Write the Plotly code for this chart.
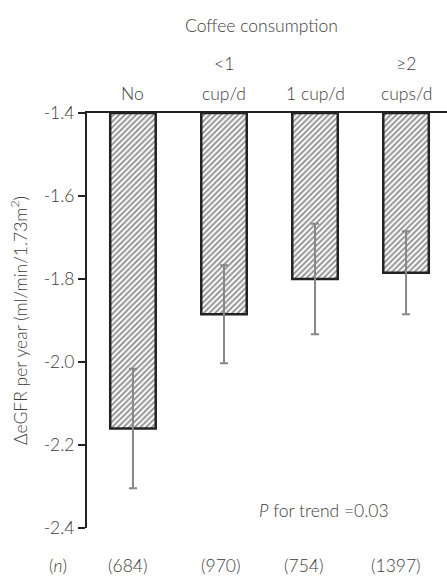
import plotly.graph_objects as go

categories = ["No", "<1 cup/d", "1 cup/d", ">=2 cups/d"]
label_line1 = ["", "<1", "", "≥2"]
label_line2 = ["No", "cup/d", "1 cup/d", "cups/d"]
values = [-2.16, -1.885, -1.80, -1.785]
errors = [0.144, 0.118, 0.133, 0.10]
n_labels = ["(684)", "(970)", "(754)", "(1397)"]
base_value = -1.4
y_tickvals = [-1.4, -1.6, -1.8, -2.0, -2.2, -2.4]
y_ticktext = ["-1.4", "-1.6", "-1.8", "-2.0", "-2.2", "-2.4"]

FONT = "Lato"
TXT = "#3c3c3c"
FS = 17.5
n_shift = [-5, -3, -12, -10]

x_idx = list(range(len(categories)))

fig = go.Figure()
fig.add_trace(go.Bar(
    x=x_idx,
    y=[v - base_value for v in values],
    base=[base_value] * len(values),
    width=0.5,
    marker=dict(
        color="white",
        line=dict(color="#222222", width=2.5),
        pattern=dict(shape="/", fgcolor="#2a2a2a", bgcolor="white", size=4, solidity=0.5),
    ),
    error_y=dict(type="data", array=errors, visible=True, color="#888888", thickness=2, width=4),
    showlegend=False,
    hoverinfo="skip",
))

def f():
    return dict(size=FS, color=TXT, family=FONT, weight=300)

annotations = []
for i, (l1, l2) in enumerate(zip(label_line1, label_line2)):
    annotations.append(dict(x=i, y=1, xref="x", yref="paper", text=l2, showarrow=False,
                            yanchor="middle", yshift=20, font=f()))
    if l1:
        annotations.append(dict(x=i, y=1, xref="x", yref="paper", text=l1, showarrow=False,
                                yanchor="middle", yshift=50, font=f()))
for i, t in enumerate(n_labels):
    annotations.append(dict(x=i, y=0, xref="x", yref="paper", text=t, showarrow=False,
                            yanchor="middle", yshift=-37, xshift=n_shift[i], font=f()))
annotations.append(dict(x=-0.11, y=0, xref="paper", yref="paper", text="(<i>n</i>)", showarrow=False,
                        yanchor="middle", yshift=-37, font=f()))
annotations.append(dict(x=0.486, y=1, xref="paper", yref="paper", text="Coffee consumption", showarrow=False,
                        yanchor="middle", yshift=88, font=f()))
annotations.append(dict(x=2.1, y=-2.357, xref="x", yref="y", text="<i>P</i> for trend =0.03", showarrow=False,
                        yanchor="middle", font=f()))

fig.update_layout(
    width=447, height=577,
    margin=dict(l=87, r=0, t=113, b=49),
    paper_bgcolor="white", plot_bgcolor="white",
    font=dict(family=FONT, color=TXT, size=FS),
    xaxis=dict(range=[-0.505, 3.45], showticklabels=False, ticks="", showgrid=False,
               zeroline=False, showline=True, linecolor="#222222", linewidth=2, side="top", mirror=False),
    yaxis=dict(range=[-2.4, -1.4], tickvals=y_tickvals, ticktext=y_ticktext, ticks="outside",
               ticklen=7, tickwidth=2, tickcolor="#222222", showgrid=False, zeroline=False,
               showline=True, linecolor="#222222", linewidth=2,
               tickfont=f(),
               title=dict(text="ΔeGFR per year (ml/min/1.73m<sup>2</sup>)", standoff=12, font=f())),
    annotations=annotations,
)

fig.write_html("out.html", config={"displayModeBar": False},
               post_script="document.body.style.margin='0';")
